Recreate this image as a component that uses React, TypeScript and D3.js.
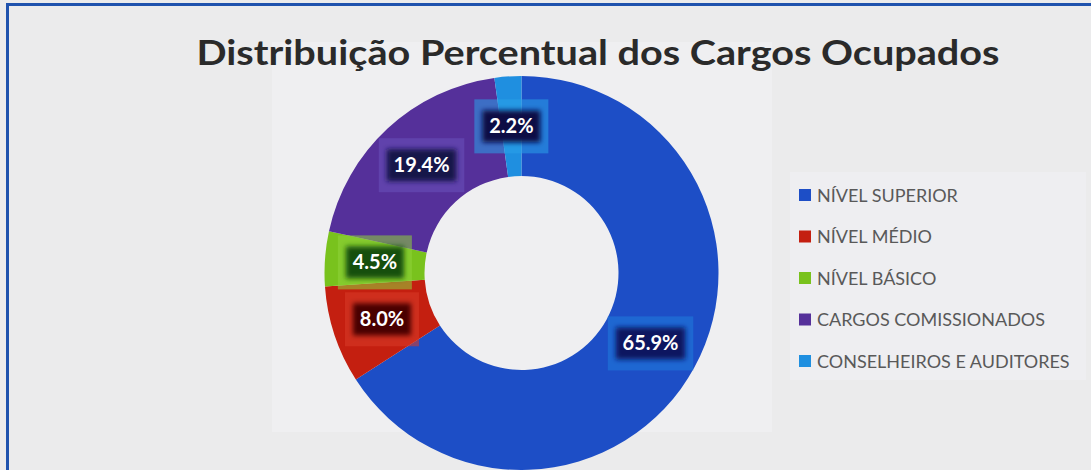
import React from "react";
import * as d3 from "d3";

const categories = [
  "NÍVEL SUPERIOR",
  "NÍVEL MÉDIO",
  "NÍVEL BÁSICO",
  "CARGOS COMISSIONADOS",
  "CONSELHEIROS E AUDITORES",
];
const values = [65.9, 8.0, 4.5, 19.4, 2.2];
const labels = ["65.9%", "8.0%", "4.5%", "19.4%", "2.2%"];
const colors = ["#1d4ec6", "#c41f10", "#79c21d", "#55309a", "#1f8fe0"];
const boxColors = ["#1f7bdc", "#d83a28", "#8fd43a", "#6a52bc", "#2aa2ea"];
const innerColors = ["#0a1460", "#4a0606", "#175010", "#14124a", "#0a0f45"];
const title = "Distribuição Percentual dos Cargos Ocupados";

const W = 1091;
const H = 470;
const cx = 521.5;
const cy = 273;
const outerR = 197;
const innerR = 97;

export default function App() {
  const pie = d3.pie<number>().sort(null).value((d) => d)(values);
  const arc = d3.arc<d3.PieArcDatum<number>>().innerRadius(innerR).outerRadius(outerR);
  const legendY = d3.scaleLinear().domain([0, categories.length - 1]).range([195, 361]);

  return (
    <svg
      width={W}
      height={H}
      style={{ position: "absolute", left: 0, top: 0, display: "block" }}
      fontFamily="Lato, 'Open Sans', sans-serif"
    >
      <defs>
        <filter id="glow" x="-30%" y="-40%" width="160%" height="180%">
          <feGaussianBlur stdDeviation="2.5" />
        </filter>
      </defs>
      <rect x={0} y={0} width={W} height={H} fill="#ebebec" />
      <rect x={272} y={42} width={500} height={390} fill="#efeff1" />
      <rect x={790} y={172} width={296} height={208} fill="#eeeef1" />
      {/* frame */}
      <rect x={6} y={3} width={3} height={H} fill="#1f52ad" />
      <rect x={6} y={3} width={W} height={3} fill="#1f52ad" />

      <text
        x={598}
        y={65}
        textAnchor="middle"
        fontSize={35}
        fontWeight={700}
        fill="#2a2a2a"
        textLength={803}
        lengthAdjust="spacingAndGlyphs"
      >
        {title}
      </text>

      <g transform={`translate(${cx},${cy})`}>
        {pie.map((p, i) => (
          <path key={i} d={arc(p) || ""} fill={colors[i]} />
        ))}
        {pie.map((p, i) => {
          const [x, y] = arc.centroid(p);
          const tw = labels[i].length * 11.5;
          return (
            <g key={"l" + i} transform={`translate(${x},${y})`}>
              <rect
                x={-tw / 2 - 14}
                y={-27}
                width={tw + 28}
                height={54}
                fill={boxColors[i]}
                opacity={0.55}
              />
              <rect
                x={-tw / 2 - 6}
                y={-16}
                width={tw + 12}
                height={32}
                fill={innerColors[i]}
                filter="url(#glow)"
              />
              <text
                x={0}
                y={7}
                textAnchor="middle"
                fontSize={20}
                fontWeight={700}
                fill="#ffffff"
              >
                {labels[i]}
              </text>
            </g>
          );
        })}
      </g>

      {categories.map((c, i) => (
        <g key={c} transform={`translate(799,${legendY(i)})`}>
          <rect x={0} y={-6} width={12} height={12} fill={colors[i]} />
          <text x={18} y={6.5} fontSize={18} fill="#595959">
            {c}
          </text>
        </g>
      ))}
    </svg>
  );
}
